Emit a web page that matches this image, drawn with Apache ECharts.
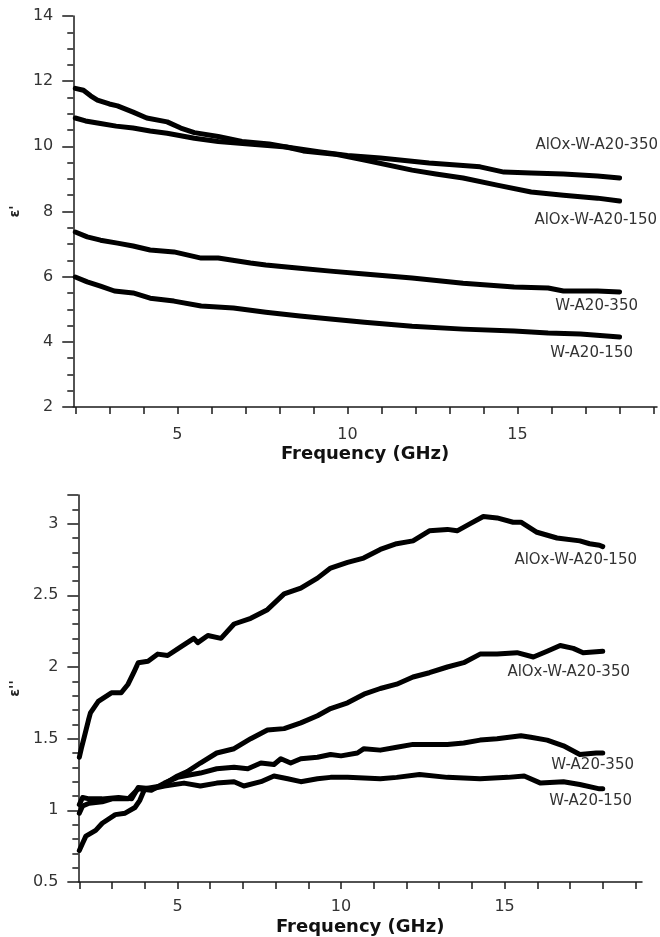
<!DOCTYPE html>
<html>
<head>
<meta charset="utf-8">
<script src="https://cdn.jsdelivr.net/npm/echarts@6/dist/echarts.min.js"></script>
<style>
  html, body { margin: 0; padding: 0; background: #fff; }
  #chart { width: 660px; height: 937px; }
</style>
</head>
<body>
<div id="chart"></div>
<script>
//--------------------------------
// Data
//--------------------------------
// epsilon' panel, [GHz, value]
const realAlOx150 = [[2,11.78],[2.24,11.72],[2.45,11.55],[2.65,11.42],[3.0,11.3],[3.24,11.24],[3.7,11.05],[4.1,10.87],[4.7,10.75],[5.1,10.56],[5.5,10.42],[6.2,10.3],[6.9,10.15],[7.7,10.07],[8.2,9.98],[8.7,9.86],[9.2,9.8],[9.7,9.75],[10.5,9.58],[11.9,9.27],[12.6,9.15],[13.4,9.03],[14.4,8.81],[15.4,8.6],[16.35,8.5],[17.35,8.41],[18,8.32]];
const realAlOx350 = [[2,10.87],[2.3,10.78],[2.74,10.7],[3.2,10.62],[3.7,10.56],[4.2,10.47],[4.7,10.4],[5.5,10.25],[6.2,10.15],[7.1,10.07],[8.2,9.98],[9.2,9.83],[10.0,9.72],[10.97,9.64],[12.4,9.49],[13.9,9.37],[14.6,9.21],[15.4,9.18],[16.35,9.15],[17.35,9.09],[18,9.03]];
const realW350 = [[2,7.37],[2.35,7.22],[2.74,7.12],[3.24,7.03],[3.7,6.94],[4.2,6.82],[4.9,6.76],[5.7,6.57],[6.2,6.57],[7.15,6.42],[7.6,6.36],[8.6,6.26],[9.5,6.17],[10.5,6.08],[11.9,5.96],[13.4,5.8],[14.9,5.68],[15.9,5.65],[16.35,5.56],[17.35,5.56],[18,5.53]];
const realW150 = [[2,5.99],[2.35,5.84],[2.74,5.71],[3.15,5.56],[3.7,5.5],[4.2,5.34],[4.9,5.25],[5.7,5.1],[6.65,5.04],[7.6,4.91],[8.6,4.79],[9.5,4.7],[10.5,4.6],[11.9,4.48],[13.4,4.39],[14.9,4.33],[15.9,4.27],[16.85,4.24],[18,4.15]];

// epsilon'' panel, [GHz, value]
const imagAlOx150 = [[2,1.37],[2.06,1.43],[2.15,1.51],[2.28,1.63],[2.34,1.68],[2.58,1.76],[2.98,1.82],[3.28,1.82],[3.49,1.88],[3.68,1.97],[3.8,2.03],[4.1,2.04],[4.4,2.09],[4.7,2.08],[5.1,2.14],[5.5,2.2],[5.62,2.17],[5.93,2.22],[6.33,2.2],[6.73,2.3],[7.24,2.34],[7.75,2.4],[8.26,2.51],[8.77,2.55],[9.28,2.62],[9.68,2.69],[10.2,2.73],[10.69,2.76],[11.2,2.82],[11.7,2.86],[12.2,2.88],[12.7,2.95],[13.25,2.96],[13.55,2.95],[13.95,3.0],[14.35,3.05],[14.77,3.04],[15.26,3.01],[15.5,3.01],[15.99,2.94],[16.6,2.9],[17.3,2.88],[17.6,2.86],[17.9,2.85],[18,2.84]];
const imagAlOx350 = [[2,0.72],[2.1,0.77],[2.2,0.82],[2.5,0.86],[2.7,0.91],[3.1,0.97],[3.4,0.98],[3.7,1.02],[3.85,1.07],[4.0,1.15],[4.5,1.17],[5.0,1.24],[5.3,1.27],[5.7,1.33],[6.2,1.40],[6.73,1.43],[7.24,1.5],[7.75,1.56],[8.26,1.57],[8.77,1.61],[9.28,1.66],[9.68,1.71],[10.2,1.75],[10.7,1.81],[11.2,1.85],[11.7,1.88],[12.2,1.93],[12.7,1.96],[13.25,2.0],[13.75,2.03],[14.25,2.09],[14.77,2.09],[15.38,2.10],[15.88,2.07],[16.3,2.11],[16.7,2.15],[17.1,2.13],[17.4,2.1],[18,2.11]];
const imagW350 = [[2,0.98],[2.1,1.03],[2.3,1.05],[2.7,1.06],[3.0,1.08],[3.5,1.08],[3.8,1.15],[4.2,1.14],[4.6,1.19],[5.0,1.23],[5.2,1.24],[5.7,1.26],[6.2,1.29],[6.73,1.30],[7.15,1.29],[7.55,1.33],[7.95,1.32],[8.16,1.36],[8.46,1.33],[8.77,1.36],[9.28,1.37],[9.68,1.39],[10.0,1.38],[10.5,1.40],[10.7,1.43],[11.2,1.42],[11.7,1.44],[12.2,1.46],[12.7,1.46],[13.25,1.46],[13.75,1.47],[14.25,1.49],[14.77,1.5],[15.5,1.52],[15.8,1.51],[16.3,1.49],[16.8,1.45],[17.3,1.39],[17.8,1.40],[18,1.4]];
const imagW150 = [[2,1.04],[2.1,1.09],[2.3,1.08],[2.7,1.08],[3.2,1.09],[3.6,1.08],[3.8,1.16],[4.2,1.15],[4.6,1.17],[5.2,1.19],[5.7,1.17],[6.2,1.19],[6.73,1.2],[7.03,1.17],[7.55,1.2],[7.95,1.24],[8.37,1.22],[8.77,1.2],[9.28,1.22],[9.68,1.23],[10.2,1.23],[11.2,1.22],[11.7,1.23],[12.4,1.25],[13.25,1.23],[14.25,1.22],[15.1,1.23],[15.6,1.24],[16.1,1.19],[16.8,1.2],[17.3,1.18],[17.9,1.15],[18,1.15]];

// tick values
const freqTicks = [2,3,4,5,6,7,8,9,10,11,12,13,14,15,16,17,18,19];
const freqLabels = [5,10,15];

//--------------------------------
// Chart
//--------------------------------
const FONT = 'DejaVu Sans';
const TXT = '#333';
const AX = '#1a1a1a';

const xAxisBase = (min, max, gap, margin) => ({
    type: 'value',
    min: min,
    max: max,
    name: 'Frequency (GHz)',
    nameLocation: 'middle',
    nameGap: gap,
    nameTextStyle: { fontFamily: FONT, fontSize: 18, fontWeight: 'bold', color: '#111' },
    axisLine: { show: true, lineStyle: { color: AX, width: 1.5 } },
    axisTick: { show: true, customValues: freqTicks, length: 7, lineStyle: { color: AX, width: 1.5 } },
    axisLabel: { customValues: freqLabels, margin: margin, fontFamily: FONT, fontSize: 16, color: TXT },
    splitLine: { show: false }
});

const yAxisBase = (min, max, interval, splits, name) => ({
    type: 'value',
    min: min,
    max: max,
    interval: interval,
    name: name,
    nameLocation: 'middle',
    nameGap: 48,
    nameRotate: 90,
    nameTextStyle: { fontFamily: FONT, fontSize: 14, fontWeight: 'bold', color: '#222' },
    axisLine: { show: true, lineStyle: { color: AX, width: 1.5 } },
    axisTick: { show: true, length: 11, lineStyle: { color: AX, width: 1.5 } },
    minorTick: { show: true, splitNumber: splits, length: 6, lineStyle: { color: AX, width: 1.5 } },
    axisLabel: { margin: 20, fontFamily: FONT, fontSize: 16, color: TXT,
                 formatter: v => String(+v.toFixed(2)) },
    splitLine: { show: false },
    minorSplitLine: { show: false }
});

const lineSeries = (data, xi, yi) => ({
    type: 'line',
    xAxisIndex: xi,
    yAxisIndex: yi,
    data: data,
    showSymbol: false,
    symbol: 'none',
    lineStyle: { color: '#000', width: 5, cap: 'round', join: 'round' },
    silent: true,
    animation: false
});

const label = (text, right, y) => ({
    type: 'text',
    x: right,
    y: y,
    style: { text: text, fill: '#333', font: '15px "DejaVu Sans"', align: 'right', verticalAlign: 'middle' }
});

const myChart = echarts.init(document.getElementById('chart'), null, { renderer: 'canvas' });
const topY = yAxisBase(2, 14, 2, 4, "ε'");
const botY = yAxisBase(0.5, 3.2, 0.5, 5, "ε''");
botY.axisLabel.showMaxLabel = false;

const options = {
    animation: false,
    backgroundColor: '#fff',
    grid: [
        { left: 73, top: 16, width: 584, height: 391 },
        { left: 77, top: 495, width: 565, height: 387 }
    ],
    xAxis: [
        Object.assign(xAxisBase(1.94, 19.1, 38, 20), { gridIndex: 0 }),
        Object.assign(xAxisBase(1.97, 19.2, 36, 17), { gridIndex: 1 })
    ],
    yAxis: [
        Object.assign(topY, { gridIndex: 0 }),
        Object.assign(botY, { gridIndex: 1 })
    ],
    series: [
        lineSeries(realAlOx150, 0, 0),
        lineSeries(realAlOx350, 0, 0),
        lineSeries(realW350, 0, 0),
        lineSeries(realW150, 0, 0),
        lineSeries(imagAlOx150, 1, 1),
        lineSeries(imagAlOx350, 1, 1),
        lineSeries(imagW350, 1, 1),
        lineSeries(imagW150, 1, 1)
    ],
    graphic: [
        label('AlOx-W-A20-350', 658, 145),
        label('AlOx-W-A20-150', 657, 220),
        label('W-A20-350', 638, 306),
        label('W-A20-150', 633, 353),
        label('AlOx-W-A20-150', 637, 560),
        label('AlOx-W-A20-350', 630, 672),
        label('W-A20-350', 634, 765),
        label('W-A20-150', 632, 801)
    ]
};
myChart.setOption(options);
</script>
</body>
</html>
